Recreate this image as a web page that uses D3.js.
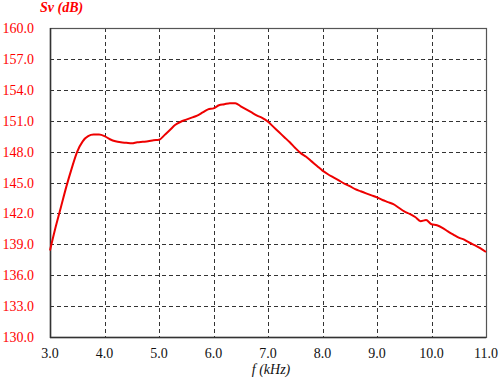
<!DOCTYPE html>
<html>
<head>
<meta charset="utf-8">
<script src="https://cdn.jsdelivr.net/npm/d3@7"></script>
<style>
  body { margin: 0; background: #fff; }
</style>
</head>
<body>
<svg id="chart" width="500" height="380"></svg>
<script>
// frequency (kHz) and level Sv (dB)
var freq = [3.0, 3.1, 3.2, 3.3, 3.4, 3.5, 3.6, 3.7, 3.8, 3.9,
  4.0, 4.1, 4.2, 4.3, 4.4, 4.5, 4.6, 4.7, 4.8, 4.9,
  5.0, 5.1, 5.2, 5.3, 5.4, 5.5, 5.6, 5.7, 5.8, 5.9,
  6.0, 6.1, 6.2, 6.3, 6.4, 6.5, 6.6, 6.7, 6.8, 6.9,
  7.0, 7.1, 7.2, 7.3, 7.4, 7.5, 7.6, 7.7, 7.8, 7.9,
  8.0, 8.1, 8.2, 8.3, 8.4, 8.5, 8.6, 8.7, 8.8, 8.9,
  9.0, 9.1, 9.2, 9.3, 9.4, 9.5, 9.6, 9.7, 9.8, 9.9,
  10.0, 10.1, 10.2, 10.3, 10.4, 10.5, 10.6, 10.7, 10.8, 10.9, 11.0];
var sv = [138.4, 140.6, 142.6, 144.6, 146.4, 148.0, 149.0, 149.5, 149.65, 149.65,
  149.5, 149.2, 149.0, 148.9, 148.85, 148.8, 148.9, 148.95, 149.0, 149.1,
  149.15, 149.6, 150.1, 150.6, 150.9, 151.1, 151.3, 151.5, 151.8, 152.1,
  152.2, 152.5, 152.6, 152.7, 152.7, 152.4, 152.1, 151.8, 151.5, 151.25,
  150.9, 150.4, 149.9, 149.4, 148.9, 148.35, 147.85, 147.5, 147.05, 146.6,
  146.15, 145.8, 145.5, 145.2, 144.9, 144.65, 144.35, 144.15, 143.95, 143.75,
  143.55, 143.3, 143.1, 142.9, 142.55, 142.2, 141.95, 141.65, 141.25, 141.35,
  140.95, 140.85, 140.6, 140.25, 139.95, 139.65, 139.45, 139.15, 138.9, 138.6, 138.25];

var xTicks = [3, 4, 5, 6, 7, 8, 9, 10, 11];
var yTicks = [130, 133, 136, 139, 142, 145, 148, 151, 154, 157, 160];

var FONT = "'Liberation Serif', 'Times New Roman', Times";

var svg = d3.select("#chart");
var m = {left: 50, right: 14, top: 28, bottom: 43};
var W = 500, H = 380;

var x = d3.scaleLinear().domain([3, 11]).range([m.left, W - m.right]);
var y = d3.scaleLinear().domain([130, 160]).range([H - m.bottom, m.top]);

// dashed grid
var grid = svg.append("g").attr("stroke", "#333").attr("stroke-width", 1)
  .attr("stroke-dasharray", "4,3").attr("fill", "none");
grid.selectAll(".gx").data(xTicks.slice(1, -1)).enter().append("line")
  .attr("x1", d => Math.round(x(d)) + 0.5).attr("x2", d => Math.round(x(d)) + 0.5)
  .attr("y1", m.top).attr("y2", H - m.bottom);
grid.selectAll(".gy").data(yTicks.slice(1, -1)).enter().append("line")
  .attr("y1", d => Math.round(y(d)) + 0.5).attr("y2", d => Math.round(y(d)) + 0.5)
  .attr("x1", m.left).attr("x2", W - m.right);

// frame
svg.append("rect")
  .attr("x", m.left + 0.5).attr("y", m.top + 0.5)
  .attr("width", W - m.left - m.right).attr("height", H - m.top - m.bottom)
  .attr("fill", "none").attr("stroke", "#555").attr("stroke-width", 1.2);
svg.append("line")
  .attr("x1", m.left + 0.5).attr("x2", m.left + 0.5)
  .attr("y1", m.top).attr("y2", H - m.bottom + 1)
  .attr("stroke", "#333").attr("stroke-width", 1.5);
svg.append("line")
  .attr("x1", m.left).attr("x2", W - m.right)
  .attr("y1", H - m.bottom + 0.5).attr("y2", H - m.bottom + 0.5)
  .attr("stroke", "#333").attr("stroke-width", 1.5);

// tick labels
svg.selectAll(".ylab").data(yTicks).enter().append("text")
  .attr("font-family", FONT)
  .attr("x", m.left - 16).attr("y", d => y(d) + 5)
  .attr("text-anchor", "end").attr("font-size", 14).attr("fill", "#ff0000")
  .text(d => d.toFixed(1));
svg.selectAll(".xlab").data(xTicks).enter().append("text")
  .attr("font-family", FONT)
  .attr("x", d => x(d)).attr("y", 358)
  .attr("text-anchor", "middle").attr("font-size", 14).attr("fill", "#111")
  .text(d => d.toFixed(1));

// axis titles
svg.append("text").attr("x", 40).attr("y", 12)
  .attr("font-family", FONT)
  .attr("font-size", 14).attr("font-weight", "bold").attr("font-style", "italic")
  .attr("fill", "#ff0000").text("Sv (dB)");
svg.append("text").attr("x", 271).attr("y", 374).attr("text-anchor", "middle")
  .attr("font-family", FONT)
  .attr("font-size", 14).attr("font-style", "italic").attr("fill", "#111")
  .text("f (kHz)");

// curve
var line = d3.line().x((d, i) => x(freq[i])).y(d => y(d)).curve(d3.curveMonotoneX);
svg.append("path").datum(sv)
  .attr("d", line).attr("fill", "none")
  .attr("stroke", "#ee0000").attr("stroke-width", 2);
</script>
</body>
</html>
